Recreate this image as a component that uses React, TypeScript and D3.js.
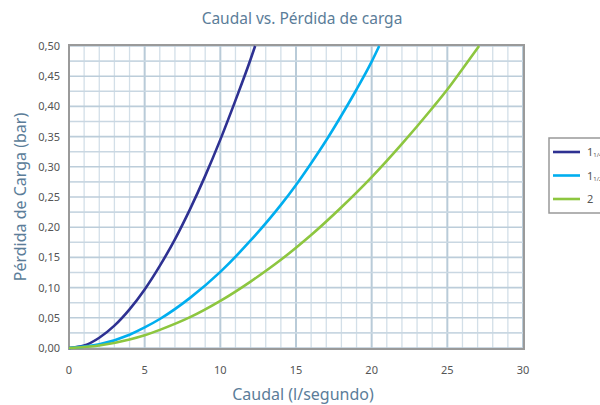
import React from "react";
import * as d3 from "d3";

const title = "Caudal vs. Pérdida de carga";
const xLabel = "Caudal (l/segundo)";
const yLabel = "Pérdida de Carga (bar)";
const xTicks = [0, 5, 10, 15, 20, 25, 30];
const yTicks = [0, 0.05, 0.1, 0.15, 0.2, 0.25, 0.3, 0.35, 0.4, 0.45, 0.5];

const seriesNames = ["1 1/4", "1 1/2", "2"];
const seriesColors = ["#2e3192", "#00aeef", "#8dc63f"];

const s114x = [0, 1, 2, 3, 4, 5, 6, 7, 8, 9, 10, 11, 12, 12.3];
const s114y = [0, 0.004, 0.017, 0.037, 0.064, 0.097, 0.136, 0.18, 0.23, 0.285, 0.345, 0.41, 0.478, 0.5];
const s112x = [0, 2, 4, 5, 6, 8, 10, 12, 14, 15, 16, 17, 18, 19, 20, 20.5];
const s112y = [0, 0.006, 0.022, 0.034, 0.048, 0.083, 0.126, 0.178, 0.237, 0.27, 0.306, 0.344, 0.385, 0.428, 0.474, 0.5];
const s2x = [0, 2, 4, 5, 6, 8, 10, 12, 14, 15, 16, 18, 20, 22, 24, 25, 26, 27.1];
const s2y = [0, 0.004, 0.014, 0.021, 0.03, 0.051, 0.078, 0.11, 0.146, 0.166, 0.187, 0.233, 0.283, 0.338, 0.397, 0.428, 0.462, 0.5];

const seriesX = [s114x, s112x, s2x];
const seriesY = [s114y, s112y, s2y];

export default function App() {
  const W = 600, H = 405;
  const left = 69, right = 523, top = 46, bottom = 348;
  const x = d3.scaleLinear().domain([0, 30]).range([left, right]);
  const y = d3.scaleLinear().domain([0, 0.5]).range([bottom, top]);
  const line = d3
    .line<[number, number]>()
    .x((d) => x(d[0]))
    .y((d) => y(d[1]))
    .curve(d3.curveMonotoneX);
  const minorX = d3.range(0, 31, 1);
  const minorY = d3.range(0, 0.5001, 0.025);
  const fmt = (v: number) => v.toFixed(2).replace(".", ",");
  const font = "'Noto Sans', sans-serif";
  const labelColor = "#5b7d99";
  const legendX = 549, legendY = 138;

  return (
    <svg width={W} height={H} style={{ position: "absolute", left: 0, top: 0 }} fontFamily={font}>
      <rect width={W} height={H} fill="#fff" />
      <text x={302} y={24} textAnchor="middle" fontSize={15.5} fill={labelColor}>
        {title}
      </text>
      {minorX.map((v) => (
        <line
          key={"gx" + v}
          x1={x(v)}
          x2={x(v)}
          y1={top}
          y2={bottom}
          stroke={v % 5 === 0 ? "#b9cbd8" : "#d3dfe8"}
          strokeWidth={v % 5 === 0 ? 2 : 1.3}
        />
      ))}
      {minorY.map((v, i) => (
        <line
          key={"gy" + i}
          x1={left}
          x2={right}
          y1={y(v)}
          y2={y(v)}
          stroke={i % 2 === 0 ? "#bccdda" : "#c9d7e2"}
          strokeWidth={1.6}
        />
      ))}
      <rect
        x={left}
        y={top - 1}
        width={right - left + 1}
        height={bottom - top + 2}
        fill="none"
        stroke="#9a9a9a"
        strokeWidth={2}
      />
      {seriesX.map((xs, si) => (
        <path
          key={"s" + si}
          d={line(xs.map((v, i) => [v, seriesY[si][i]] as [number, number])) || ""}
          fill="none"
          stroke={seriesColors[si]}
          strokeWidth={2.6}
        />
      ))}
      {yTicks.map((v) => (
        <text key={"yt" + v} x={60} y={y(v) + 4} textAnchor="end" fontSize={11} fill="#555">
          {fmt(v)}
        </text>
      ))}
      {xTicks.map((v) => (
        <text key={"xt" + v} x={x(v)} y={374} textAnchor="middle" fontSize={11} fill="#555">
          {v}
        </text>
      ))}
      <text x={303} y={400} textAnchor="middle" fontSize={16} fill={labelColor}>
        {xLabel}
      </text>
      <text
        transform={`translate(26, ${(top + bottom) / 2}) rotate(-90)`}
        textAnchor="middle"
        fontSize={16}
        fill={labelColor}
      >
        {yLabel}
      </text>
      <rect x={legendX} y={legendY} width={70} height={75} fill="#fff" stroke="#999" strokeWidth={1.5} />
      {seriesNames.map((n, i) => {
        const ly = legendY + 14 + i * 23.5;
        const parts = n.split(" ");
        return (
          <g key={"lg" + i}>
            <line x1={legendX + 4} x2={legendX + 31} y1={ly} y2={ly} stroke={seriesColors[i]} strokeWidth={2.6} />
            <text x={legendX + 38} y={ly + 4} fontSize={11} fill="#555">
              {parts[0]}
              {parts[1] ? (
                <tspan fontSize={6} dy={1}>
                  {parts[1]}
                </tspan>
              ) : null}
            </text>
          </g>
        );
      })}
    </svg>
  );
}
